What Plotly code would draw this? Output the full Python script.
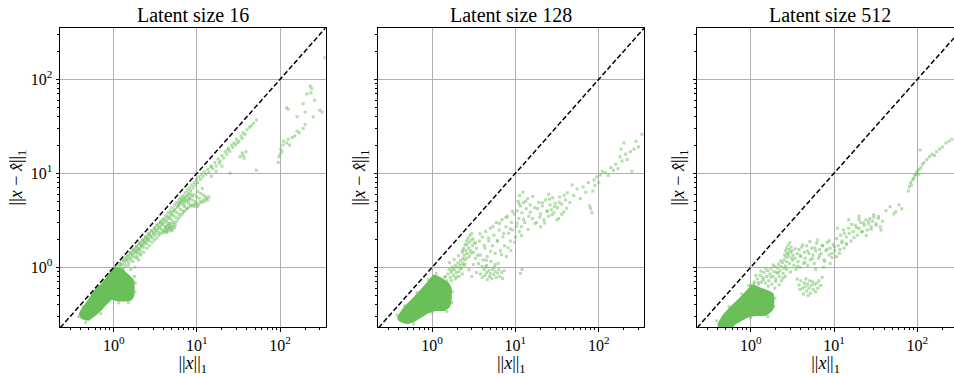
import plotly.graph_objects as go

# ---------------- data ----------------
TITLES = ["Latent size 16", "Latent size 128", "Latent size 512"]
MAJOR_TICKS = [1, 10, 100]
MAJOR_TEXT = ["10<sup>0</sup>", "10<sup>1</sup>", "10<sup>2</sup>"]
MINOR_TICKS = [0.3, 0.4, 0.5, 0.6, 0.7, 0.8, 0.9, 2, 3, 4, 5, 6, 7, 8, 9,
               20, 30, 40, 50, 60, 70, 80, 90, 200, 300]
DIAG = [0.1, 1000]

# Outline of the saturated (dense) region of each panel, (x, y)
p16_dense = [
    (0.39, 0.32), (0.41, 0.35), (0.50, 0.45), (0.60, 0.57), (0.70, 0.65), (0.79, 0.73),
    (0.90, 0.86), (0.99, 0.98), (1.10, 1.00), (1.20, 0.97), (1.45, 0.85), (1.72, 0.73),
    (1.75, 0.60), (1.72, 0.49), (1.60, 0.45), (1.30, 0.44), (1.04, 0.45), (0.95, 0.46),
    (0.80, 0.40), (0.65, 0.33), (0.54, 0.29), (0.50, 0.275), (0.45, 0.28), (0.41, 0.29),
]
p128_dense = [
    (0.39, 0.29), (0.42, 0.33), (0.50, 0.40), (0.60, 0.47), (0.72, 0.56), (0.85, 0.66),
    (0.97, 0.76), (1.05, 0.82), (1.15, 0.80), (1.35, 0.74), (1.55, 0.68), (1.68, 0.60),
    (1.68, 0.45), (1.60, 0.38), (1.40, 0.35), (1.10, 0.35), (0.90, 0.33), (0.75, 0.30),
    (0.62, 0.27), (0.52, 0.255), (0.45, 0.26), (0.41, 0.27),
]
p512_dense = [
    (0.41, 0.25), (0.45, 0.29), (0.50, 0.33), (0.60, 0.39), (0.71, 0.45), (0.85, 0.53),
    (0.98, 0.61), (1.03, 0.65), (1.15, 0.63), (1.30, 0.60), (1.60, 0.56), (1.85, 0.52),
    (1.88, 0.42), (1.80, 0.35), (1.50, 0.31), (1.20, 0.31), (0.94, 0.30), (0.75, 0.27),
    (0.60, 0.24), (0.52, 0.225), (0.45, 0.22), (0.42, 0.23),
]

# Individual (sparse) samples, (x, y)
p16_points = [
    (0.38, 0.30), (0.43, 0.38), (0.56, 0.52), (0.75, 0.72), (0.92, 0.92), (1.80, 0.55),
    (1.82, 0.68), (1.78, 0.80), (1.50, 0.42), (1.15, 0.42), (0.70, 0.32), (0.46, 0.26),
    (1.05, 1.0), (1.15, 1.05), (1.2, 1.12), (1.25, 1.08), (1.3, 1.2), (1.35, 1.1), (1.4, 1.28),
    (1.45, 1.18), (1.5, 1.35), (1.55, 1.25), (1.6, 1.42), (1.65, 1.3), (1.7, 1.5), (1.75, 1.4),
    (1.8, 1.58), (1.85, 1.45), (1.9, 1.65), (1.95, 1.52), (2.0, 1.75), (2.05, 1.6), (2.1, 1.8),
    (2.15, 1.68), (2.2, 1.9), (2.25, 1.75), (2.3, 1.95), (2.35, 1.82), (2.4, 2.05), (2.5, 1.9),
    (2.55, 2.15), (2.6, 2.0), (1.3, 0.95), (1.5, 1.05), (1.7, 1.15), (1.9, 1.3), (2.1, 1.4),
    (1.8, 1.0), (2.0, 1.2), (1.6, 0.95),
    (1.22, 1.05), (1.28, 0.98), (1.33, 1.18), (1.38, 1.02), (1.42, 1.22), (1.47, 1.31),
    (1.52, 1.12), (1.57, 1.44), (1.61, 1.21), (1.66, 1.37), (1.72, 1.55), (1.77, 1.29),
    (1.83, 1.48), (1.88, 1.69), (1.93, 1.41), (1.98, 1.58), (2.04, 1.84), (2.09, 1.52),
    (2.16, 1.71), (2.22, 1.97), (2.28, 1.63), (2.34, 1.86), (2.41, 2.12), (2.47, 1.78),
    (2.53, 2.01), (2.61, 2.27), (2.68, 1.92), (2.75, 2.18), (2.83, 2.45), (2.91, 2.06),
    (2.99, 2.33), (3.08, 2.62), (3.16, 2.21), (3.25, 2.49), (3.35, 2.81), (3.44, 2.35),
    (3.55, 2.66), (3.66, 3.02), (3.77, 2.51), (3.89, 2.84), (4.01, 3.25), (4.14, 2.72),
    (4.27, 3.06), (4.41, 3.49), (4.55, 2.95), (4.7, 3.31), (4.86, 3.76), (5.02, 3.18),
    (5.19, 3.56), (5.37, 4.05), (5.55, 3.41), (5.74, 3.83), (5.94, 4.36), (6.15, 3.66),
    (6.37, 4.12), (6.6, 4.7), (6.84, 3.95), (7.09, 4.45), (7.35, 5.06), (7.62, 4.26),
    (7.9, 4.8), (8.2, 5.48), (8.51, 4.62), (8.83, 5.2), (9.17, 5.92), (9.52, 5.0),
    (9.89, 5.63), (10.3, 6.4), (10.7, 5.42), (11.1, 6.1), (11.6, 6.9), (12.0, 5.85),
    (2.7, 2.3), (2.8, 2.1), (2.9, 2.45), (3.0, 2.25), (3.1, 2.6), (3.2, 2.4), (3.3, 2.8),
    (3.4, 2.55), (3.5, 2.95), (3.6, 2.7), (3.7, 3.1), (3.8, 2.85), (3.9, 3.25), (4.0, 3.0),
    (4.2, 3.5), (4.3, 3.2), (4.5, 3.8), (4.6, 3.4), (4.8, 4.0), (4.9, 3.6), (5.0, 4.3),
    (5.2, 3.9), (5.4, 4.6), (5.5, 4.2), (5.7, 4.9), (5.9, 4.5), (6.1, 5.2), (6.2, 4.8),
    (6.4, 5.5), (6.6, 5.1), (6.8, 5.8), (7.0, 5.4), (7.2, 6.2), (7.4, 5.7), (7.7, 6.6),
    (7.9, 6.1), (8.2, 7.0), (8.4, 6.5), (8.7, 7.5), (9.0, 7.0), (9.3, 8.0), (9.6, 7.5),
    (9.9, 8.6), (10.2, 8.0), (10.6, 9.2), (11.0, 8.6), (11.4, 9.8), (11.8, 9.2), (12.3, 10.4),
    (12.8, 9.8),
    (1.9, 1.25), (2.1, 1.35), (2.3, 1.45), (2.5, 1.6), (2.7, 1.7), (2.9, 1.85), (3.1, 1.95),
    (3.3, 2.05), (3.5, 2.2), (3.7, 2.3), (3.9, 2.35), (4.0, 2.5), (4.1, 2.4), (4.2, 2.65),
    (4.3, 2.5), (4.4, 2.8), (4.5, 2.4), (4.6, 2.6), (4.7, 2.9), (4.8, 2.5), (4.9, 2.7),
    (5.0, 2.95), (5.1, 2.55), (5.2, 2.75), (5.3, 3.0), (5.4, 2.65), (5.5, 2.85), (4.4, 2.55),
    (4.6, 2.75), (4.8, 2.65), (5.0, 2.45), (4.3, 2.35), (5.7, 3.1), (6.0, 3.3), (6.3, 3.5),
    (6.7, 3.7), (7.1, 3.95), (7.5, 4.15), (8.0, 4.35), (8.5, 4.5), (9.0, 4.6), (9.5, 4.7),
    (10, 4.8), (10.5, 4.65), (11, 5.0), (11.5, 4.9), (12, 5.2), (12.5, 5.0), (13, 5.4),
    (13.5, 5.2), (14, 5.6), (10.2, 4.4), (9.3, 4.45), (12.8, 5.6),
    (6.3, 4.9), (6.6, 5.3), (6.9, 5.0), (7.2, 5.5), (7.5, 5.2), (7.8, 5.8), (8.1, 5.4),
    (8.4, 6.0), (8.8, 5.7), (6.0, 4.6), (7.0, 4.7), (8.0, 5.1),
    (13.5, 11.0), (14, 10.2), (15, 12.0), (15.5, 11.2), (16.5, 13.0), (17, 12.0), (18, 14.2),
    (19, 13.5), (20, 15.5), (21, 14.6), (22, 17), (23, 16), (24, 18.5), (25, 17.2), (26, 20),
    (27, 18.8), (28, 21), (29, 20), (30, 23), (32, 22), (34, 25), (36, 27), (38, 26),
    (40, 29), (43, 31), (35, 23.5), (14.6, 11.7), (18.7, 12.9), (23.5, 17.8), (31, 21.2),
    (33, 15), (35, 16.5), (37, 14.5), (39, 17), (36, 15.5), (25, 10), (52, 10.8), (20, 12),
    (15, 9.3), (17, 10.5),
    (52, 37), (45, 32), (48, 34), (95, 13), (97, 15), (100, 16), (102, 18), (105, 17),
    (108, 20), (110, 22), (120, 21), (125, 23), (130, 20), (140, 24), (150, 25), (160, 28),
    (170, 27), (190, 30), (200, 33), (120, 50), (125, 48), (190, 55), (230, 85), (240, 80),
    (235, 72), (210, 70), (300, 47), (320, 45), (250, 40), (160, 40), (345, 170), (200, 45),
    (260, 60),
]
p128_points = [
    (0.38, 0.31), (0.47, 0.39), (0.66, 0.54), (0.90, 0.74), (1.12, 0.86), (1.75, 0.55),
    (1.73, 0.42), (1.50, 0.34), (1.00, 0.33), (0.60, 0.25), (1.40, 0.78),
    (1.55, 0.85), (1.6, 0.95), (1.65, 0.78), (1.7, 0.88), (1.75, 1.0), (1.8, 0.82), (1.85, 0.95),
    (1.9, 1.05), (1.95, 0.88), (2.0, 1.0), (2.05, 1.12), (2.1, 0.9), (2.15, 1.05), (2.2, 1.18),
    (2.25, 0.98), (2.3, 1.1), (2.35, 1.25), (2.4, 1.05), (2.45, 1.2), (1.7, 0.72), (1.9, 0.75),
    (2.1, 0.8), (2.3, 0.85), (1.45, 0.8), (1.5, 0.72),
    (2.3, 1.45), (2.4, 1.6), (2.45, 1.35), (2.5, 1.75), (2.55, 1.5), (2.6, 1.9), (2.65, 1.4),
    (2.7, 2.05), (2.75, 1.6), (2.8, 1.85), (2.85, 2.2), (2.9, 1.5), (2.95, 1.95), (3.0, 2.3),
    (3.05, 1.7), (3.1, 2.0), (3.15, 1.45), (3.2, 1.8), (2.6, 1.25), (2.8, 1.3),
    (3.3, 1.25), (3.4, 1.6), (3.6, 1.1), (3.7, 1.9), (3.8, 1.35), (4.0, 2.1), (4.1, 1.2),
    (4.3, 1.6), (4.4, 2.4), (4.6, 1.3), (4.8, 1.9), (5.0, 2.6), (5.1, 1.15), (5.3, 1.7),
    (5.5, 2.2), (5.7, 1.4), (5.9, 3.0), (6.1, 1.9), (6.4, 2.5), (6.6, 1.5), (6.9, 3.2),
    (7.1, 2.1), (7.4, 1.7), (7.7, 2.7), (8.0, 3.5), (8.3, 2.3), (8.7, 1.9), (9.0, 3.0),
    (9.3, 2.5), (9.7, 3.7), (10, 2.1), (4.5, 1.05), (6.2, 1.1), (7.8, 1.3), (8.8, 1.5),
    (1.62, 1.12), (1.73, 0.93), (1.84, 1.21), (1.96, 0.79), (2.07, 1.33), (2.19, 0.97),
    (2.33, 1.52), (2.48, 1.08), (2.61, 1.73), (2.77, 0.94), (2.94, 1.41), (3.12, 1.07),
    (3.31, 1.83), (3.52, 1.34), (3.74, 2.27), (3.97, 1.02), (4.21, 1.71), (4.47, 1.19),
    (4.75, 2.05), (5.04, 1.48), (5.36, 2.71), (5.69, 1.07), (6.04, 1.92), (6.42, 2.93),
    (6.81, 1.36), (7.24, 2.31), (7.69, 3.38), (8.17, 1.62), (8.68, 2.56), (9.22, 3.93),
    (9.79, 1.85), (10.4, 2.94), (11.1, 4.71), (11.8, 2.18), (12.5, 3.22), (13.3, 5.05),
    (14.2, 2.53), (15.1, 3.86), (16.1, 5.67), (17.2, 2.92), (18.4, 4.22), (19.6, 3.41),
    (21, 4.85), (22.4, 2.97), (24, 3.92), (25.7, 5.31), (27.5, 3.62), (29.4, 4.44),
    (31.5, 3.18), (33.7, 4.91), (36, 3.67), (38.5, 5.85), (41.2, 4.25),
    (3.8, 0.85), (4.0, 0.78), (4.2, 0.95), (4.3, 0.82), (4.5, 0.88), (4.6, 0.74), (4.8, 0.92),
    (4.9, 0.8), (5.0, 0.86), (5.2, 0.76), (5.3, 0.95), (5.5, 0.84), (5.7, 0.9), (5.9, 0.78),
    (6.1, 0.87), (6.3, 0.95), (6.5, 0.8), (6.8, 0.88), (7.0, 0.76), (7.3, 0.92), (4.4, 1.0),
    (5.6, 1.0), (11.5, 0.86), (12, 0.95), (3.4, 0.88), (3.0, 0.8),
    (10.5, 4.0), (10.8, 5.0), (11, 3.3), (11.2, 5.8), (11.5, 4.5), (11.8, 2.7), (12, 3.8),
    (12.3, 6.3), (12.5, 4.9), (13, 3.0), (13.5, 4.2), (14, 5.4), (14.5, 3.5), (15, 4.6),
    (11.2, 2.4), (10.2, 2.7),
    (16, 3.3), (17, 4.3), (18, 3.0), (19, 4.9), (20, 3.7), (21, 4.5), (22, 3.2), (23, 5.2),
    (24, 4.0), (25, 3.5), (26, 4.6), (27, 4.1), (28, 5.5), (29, 3.8), (30, 4.8), (32, 4.3),
    (34, 5.6), (36, 4.7), (38, 3.9), (40, 5.2), (42, 6.2), (45, 4.9), (20, 2.7), (25, 6.0),
    (33, 3.3),
    (50, 5.8), (55, 6.8), (60, 5.4), (65, 7.2), (70, 6.3), (75, 8.0), (80, 4.2), (83, 3.8),
    (85, 6.5), (88, 8.5), (90, 7.4), (95, 9.2), (100, 8.0), (105, 9.6), (110, 10.5), (78, 4.5),
    (48, 7.5),
    (120, 10.2), (130, 9.5), (140, 11.5), (150, 10.8), (160, 12.5), (170, 11.2), (180, 15),
    (190, 13.5), (200, 21), (210, 16), (220, 14), (240, 17), (250, 10.5), (265, 18), (280, 22),
    (300, 19), (330, 26), (185, 18),
]
p512_points = [
    (0.39, 0.27), (0.55, 0.38), (0.78, 0.52), (0.95, 0.64), (1.10, 0.67), (1.95, 0.47),
    (1.90, 0.38), (1.60, 0.30), (1.00, 0.29), (0.62, 0.23),
    (1.1, 0.7), (1.2, 0.75), (1.25, 0.66), (1.3, 0.82), (1.35, 0.7), (1.4, 0.78), (1.45, 0.88),
    (1.5, 0.68), (1.55, 0.8), (1.6, 0.92), (1.65, 0.72), (1.7, 0.85), (1.75, 0.97), (1.8, 0.66),
    (1.85, 0.8), (1.9, 0.9), (1.95, 1.02), (2.0, 0.75), (2.05, 0.88), (2.1, 0.98), (2.15, 1.08),
    (2.2, 0.8), (2.25, 0.92), (2.3, 1.02), (2.35, 0.72), (2.4, 1.12), (2.45, 0.86), (2.5, 0.98),
    (1.95, 0.6), (2.2, 0.65), (2.6, 0.8), (2.7, 0.95),
    (1.15, 0.82), (1.24, 0.69), (1.33, 0.91), (1.42, 0.74), (1.52, 0.97), (1.63, 0.63),
    (1.74, 0.79), (1.86, 1.06), (1.99, 0.71), (2.13, 0.87), (2.28, 1.17), (2.44, 0.77),
    (2.61, 1.03), (2.79, 1.38), (2.99, 0.89), (3.2, 1.19), (3.42, 1.58), (3.66, 1.02),
    (3.92, 1.34), (4.19, 1.74), (4.48, 1.13), (4.8, 1.49), (5.13, 1.88), (5.49, 1.24),
    (5.88, 1.62), (6.29, 1.95), (6.73, 1.33), (7.2, 1.71), (7.7, 1.16), (8.24, 1.56),
    (8.82, 1.92), (9.44, 1.27), (10.1, 1.66), (10.8, 2.03), (11.6, 1.41), (12.4, 1.83),
    (13.3, 2.31), (14.2, 1.74), (15.2, 2.29), (16.3, 2.85), (17.4, 2.06), (18.6, 2.63),
    (19.9, 3.22), (21.3, 2.39), (22.8, 2.97), (24.4, 2.18), (26.1, 3.11), (27.9, 2.54),
    (29.9, 3.62), (32, 2.81), (34.2, 3.48), (36.6, 2.49),
    (2.5, 1.2), (2.55, 1.35), (2.6, 1.5), (2.65, 1.28), (2.7, 1.6), (2.75, 1.42), (2.8, 1.72),
    (2.85, 1.3), (2.9, 1.55), (2.95, 1.82), (3.0, 1.45), (3.05, 1.65), (3.1, 1.25), (3.15, 1.5),
    (3.2, 1.35), (2.7, 1.15), (2.9, 1.1),
    (3.3, 1.05), (3.4, 1.25), (3.5, 0.95), (3.6, 1.4), (3.7, 1.15), (3.8, 1.55), (3.9, 1.0),
    (4.0, 1.3), (4.1, 1.65), (4.3, 1.1), (4.4, 1.45), (4.5, 1.25), (4.7, 1.7), (4.8, 1.05),
    (5.0, 1.4), (5.2, 1.2), (5.4, 1.6), (5.6, 1.35), (5.8, 1.1), (6.0, 1.5), (6.2, 1.8),
    (6.5, 1.25), (6.7, 1.55), (7.0, 1.4), (7.3, 1.7), (7.6, 1.2), (8.0, 1.5), (8.3, 1.85),
    (8.7, 1.35), (9.0, 1.6), (9.4, 1.4), (9.8, 1.75), (10.2, 1.5), (10.7, 1.3), (11.2, 1.7),
    (11.8, 1.55), (12.5, 1.9), (13.2, 1.6), (14, 1.8), (6.0, 0.95), (7.5, 1.0), (9.0, 1.1),
    (3.8, 0.65), (3.9, 0.58), (4.0, 0.72), (4.2, 0.6), (4.3, 0.52), (4.4, 0.68), (4.5, 0.62),
    (4.6, 0.75), (4.7, 0.56), (4.8, 0.66), (5.0, 0.6), (5.1, 0.72), (5.2, 0.53), (5.3, 0.64),
    (5.5, 0.7), (5.6, 0.58), (5.8, 0.66), (6.0, 0.55), (6.2, 0.68), (6.4, 0.6), (6.6, 0.72),
    (6.9, 0.64), (7.2, 0.78), (3.6, 0.75), (4.9, 0.5),
    (12, 2.2), (13, 2.5), (14, 2.1), (15, 2.6), (16, 1.9), (17, 2.4), (18, 2.8), (19, 2.2),
    (20, 2.6), (21, 3.0), (22, 2.4), (23, 2.8), (24, 3.2), (25, 2.5), (26, 2.9), (27, 3.3),
    (28, 2.7), (29, 3.1), (30, 3.4), (32, 2.9), (34, 3.3), (36, 2.7), (38, 3.1), (15, 3.2),
    (20, 3.5), (11, 2.6),
    (42, 4.0), (47, 4.4), (52, 3.7), (55, 3.9), (60, 4.6), (65, 4.2),
    (78, 6.5), (80, 7.2), (83, 8.0), (85, 7.5), (88, 8.5), (90, 8.8), (93, 9.3), (95, 9.7),
    (98, 10), (100, 10.5), (103, 9.8), (105, 11), (110, 11.5), (108, 17.7), (115, 12.5),
    (120, 13), (130, 14), (140, 15), (150, 16), (160, 15.5), (170, 17), (185, 18), (200, 19),
    (220, 21), (240, 22), (260, 23), (290, 24),
]

PANELS = [(p16_dense, p16_points), (p128_dense, p128_points), (p512_dense, p512_points)]

# ---------------- styling / layout ----------------
GREEN = "rgb(106,191,89)"
FONT = "Liberation Serif, DejaVu Serif, serif"
X_DOMAINS = [[0.0629, 0.3412], [0.3966, 0.6753], [0.7309, 1.0]]
Y_DOMAIN = [0.1303, 0.9255]
X_RANGES = [[-0.645, 2.546], [-0.645, 2.546], [-0.641, 2.44]]
Y_RANGE = [-0.635, 2.546]

fig = go.Figure()
for i, (dense, pts) in enumerate(PANELS):
    xa = "x" if i == 0 else f"x{i+1}"
    ya = "y" if i == 0 else f"y{i+1}"
    fig.add_trace(go.Scatter(
        x=[p[0] for p in pts], y=[p[1] for p in pts], mode="markers",
        marker=dict(color=GREEN, size=3, opacity=0.5, symbol="square", line=dict(width=0)),
        xaxis=xa, yaxis=ya, showlegend=False, hoverinfo="skip"))
    fig.add_trace(go.Scatter(
        x=[p[0] for p in dense] + [dense[0][0]], y=[p[1] for p in dense] + [dense[0][1]],
        mode="lines", fill="toself", fillcolor=GREEN,
        line=dict(color=GREEN, width=1.5, shape="spline", smoothing=0.4),
        xaxis=xa, yaxis=ya, showlegend=False, hoverinfo="skip"))
    fig.add_trace(go.Scatter(
        x=DIAG, y=DIAG, mode="lines",
        line=dict(color="black", width=1.5, dash="5px,2.5px"),
        xaxis=xa, yaxis=ya, showlegend=False, hoverinfo="skip"))

axis_common = dict(
    type="log", showgrid=True, gridcolor="#b0b0b0", gridwidth=0.8,
    tickvals=MAJOR_TICKS, ticktext=MAJOR_TEXT, ticks="outside", ticklen=3.5,
    tickwidth=0.8, tickcolor="black", showline=True, linecolor="black", linewidth=1,
    zeroline=False, tickfont=dict(family=FONT, size=16, color="black"),
    minor=dict(tickvals=MINOR_TICKS, ticks="outside", ticklen=2, tickwidth=0.6,
               tickcolor="black", showgrid=False),
)

layout = dict(
    width=954, height=376, margin=dict(l=0, r=0, t=0, b=0),
    paper_bgcolor="white", plot_bgcolor="white",
    font=dict(family=FONT, color="black"),
)
annotations = []
panel_w = X_DOMAINS[0][1] - X_DOMAINS[0][0]
for i in range(3):
    sx = "" if i == 0 else str(i + 1)
    layout["xaxis" + sx] = dict(
        axis_common, domain=X_DOMAINS[i], range=X_RANGES[i], anchor="y" + sx, mirror=True,
        title=dict(text="||<i>x</i>||<sub>1</sub>", font=dict(family=FONT, size=18), standoff=3))
    layout["yaxis" + sx] = dict(
        axis_common, domain=Y_DOMAIN, range=Y_RANGE, anchor="x" + sx,
        mirror=(i < 2), showticklabels=(i == 0),
        title=dict(text="||<i>x</i> − <i>x̂</i>||<sub>1</sub>", font=dict(family=FONT, size=18),
                   standoff=3 if i == 0 else 3))
    annotations.append(dict(
        text=TITLES[i], xref="paper", yref="paper",
        x=X_DOMAINS[i][0] + panel_w / 2, y=1 - 15 / 376,
        xanchor="center", yanchor="middle", showarrow=False,
        font=dict(family=FONT, size=20, color="black")))
layout["annotations"] = annotations
fig.update_layout(**layout)
fig.write_html("out.html")
